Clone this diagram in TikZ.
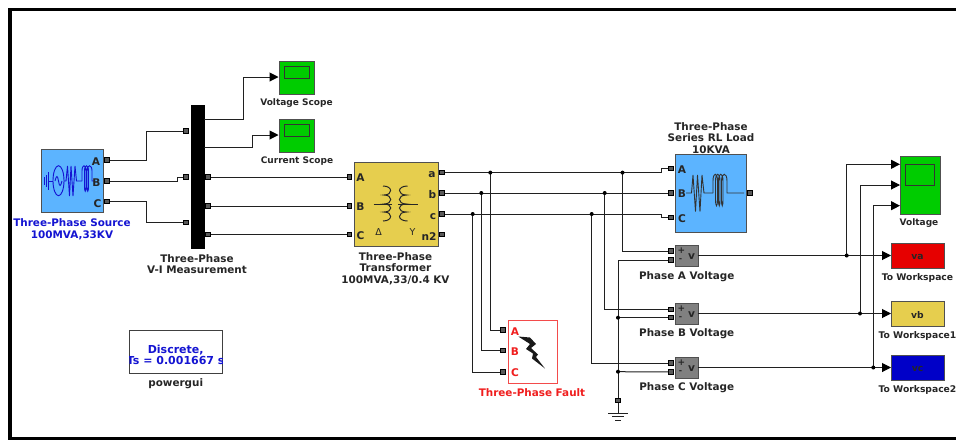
\documentclass[tikz,border=0pt]{standalone}
\usepackage{fontspec}
\setmainfont{DejaVu Sans}
\usetikzlibrary{arrows.meta}
\definecolor{srcblue}{HTML}{5CB4FF}
\definecolor{scopegreen}{HTML}{00CC00}
\definecolor{xfyellow}{HTML}{E6CE4E}
\definecolor{metergray}{HTML}{808080}
\definecolor{wire}{HTML}{202020}
\definecolor{edgegray}{HTML}{505050}
\definecolor{labelblue}{HTML}{1414D2}
\definecolor{faultred}{HTML}{F01E1E}
\definecolor{wsblue}{HTML}{0000C8}
\definecolor{wsred}{HTML}{E60000}
\tikzset{
  txt/.style={font=\bfseries\fontsize{10.4}{11.6}\selectfont,align=center,text=black!85,inner sep=0pt},
  stxt/.style={font=\bfseries\fontsize{9}{11}\selectfont,align=center,text=black!85,inner sep=0pt},
  wtxt/.style={font=\bfseries\fontsize{9.2}{10}\selectfont,align=center,text=black!85,inner sep=0pt},
  plab/.style={font=\bfseries\fontsize{10.6}{11}\selectfont,inner sep=0pt,text=black!85},
  port/.style={draw=black,fill=black!65,line width=1pt,minimum size=4.2pt,inner sep=0pt},
  con/.style={draw=wire,line width=1pt},
  sig/.style={con,-{Triangle[length=9pt,width=9pt,color=black,fill=black]}},
  block/.style={draw=edgegray,line width=1pt,inner sep=0pt},
  dot/.style={circle,fill=black,inner sep=0pt,minimum size=4pt},
  scopescreen/.style={draw=black!80,line width=1pt}
}
\begin{document}
\begin{tikzpicture}[x=1pt,y=-1pt]
\useasboundingbox (0,0) rectangle (956,440);
\fill[white] (0,0) rectangle (956,440);
% frame
\fill[black] (8,7.5) rectangle (956,11);
\fill[black] (8,7.5) rectangle (12,440);
\fill[black] (8,436.5) rectangle (956,440);

% blocks
\node[block,fill=srcblue,minimum width=61.5pt,minimum height=63pt,anchor=north west] (src) at (41,149) {};
\node[draw=black,fill=black,minimum width=13.5pt,minimum height=143pt,inner sep=0pt,anchor=north west] (vi) at (190.5,105) {};
\node[block,fill=scopegreen,minimum width=35.5pt,minimum height=33.5pt,anchor=north west] (sv) at (278.5,60.5) {};
\node[block,fill=scopegreen,minimum width=35.5pt,minimum height=33.5pt,anchor=north west] (sc) at (278.5,118.5) {};
\node[block,fill=xfyellow,minimum width=84pt,minimum height=83.5pt,anchor=north west] (xf) at (353.7,162) {};
\node[block,fill=srcblue,minimum width=71pt,minimum height=78pt,anchor=north west] (load) at (675,154.3) {};
\node[draw=faultred!80,line width=1pt,fill=white,inner sep=0pt,minimum width=49pt,minimum height=63pt,anchor=north west] (fault) at (507.5,319.5) {};
\node[block,fill=metergray,minimum width=22.7pt,minimum height=20.4pt,anchor=north west] (ma) at (675,245.3) {};
\node[block,fill=metergray,minimum width=22.7pt,minimum height=20.4pt,anchor=north west] (mb) at (675,303.3) {};
\node[block,fill=metergray,minimum width=22.7pt,minimum height=20.4pt,anchor=north west] (mc) at (675,357.3) {};
\node[block,fill=scopegreen,minimum width=40pt,minimum height=58.6pt,anchor=north west] (sv3) at (900,155.7) {};
\node[block,fill=wsred,minimum width=53pt,minimum height=25pt,anchor=north west] (wa) at (891,243) {};
\node[block,fill=xfyellow,minimum width=53pt,minimum height=25pt,anchor=north west] (wb) at (891,301) {};
\node[block,fill=wsblue,minimum width=53pt,minimum height=25pt,anchor=north west] (wc) at (891,355) {};
\node[draw=black!75,line width=1pt,fill=white,inner sep=0pt,minimum width=93.3pt,minimum height=43.3pt,anchor=north west] (pg) at (129,330) {};

% ports
\foreach \n/\x/\y in {sA/107/160,sB/107/181,sC/107/201.5,
  viA/186/131,viB/186/177,viC/186/222.6,
  voA/208/177,voB/208/206,voC/208/234.5,
  xA/349.5/177,xB/349.5/206,xC/349.5/234.5,
  xa/442/172.6,xb/442/193,xc/442/214,xn/442/234.5,
  lA/671/168.3,lB/671/193,lC/671/217.7,lN/750/193,
  fA/503/330,fB/503/350.7,fC/503/372,
  mAp/671/251,mAn/671/260,mBp/671/309.7,mBn/671/317.7,mCp/671/363,mCn/671/372,
  gp/618/400.7}
  {\node[port] (\n) at (\x,\y) {};}

% routing coordinates
\coordinate (r1) at (146.5,131);
\coordinate (r3) at (146.5,222.6);
\coordinate (oV) at (204,119);
\coordinate (oC) at (204,147.5);
\coordinate (rV) at (243.5,77);
\coordinate (rC) at (252,135);
\coordinate (ta) at (278.5,77);
\coordinate (tc) at (278.5,135);
\coordinate (j2a) at (622.5,172.6);
\coordinate (j2b) at (604.7,193);
\coordinate (j2c) at (591.7,214);
\coordinate (j1a) at (490.3,172.6);
\coordinate (j1b) at (481.3,193);
\coordinate (j1c) at (472.7,214);
\coordinate (jn0) at (618,260);
\coordinate (jn1) at (618,317.7);
\coordinate (jn2) at (618,371.7);
\coordinate (oa) at (697.7,255.5);
\coordinate (ob) at (697.7,313.5);
\coordinate (oc) at (697.7,367.5);
\coordinate (ba) at (846.7,255.5);
\coordinate (bb) at (860,313.5);
\coordinate (bc) at (873.3,367.5);
\coordinate (ga) at (900,164.3);
\coordinate (gb) at (900,185);
\coordinate (gc) at (900,205.7);
\coordinate (ea) at (891,255.5);
\coordinate (eb) at (891,313.5);
\coordinate (ec) at (891,367.5);
\coordinate (gt) at (618,413);

% connectors
\draw[con] (sA) -| (r1) -- (viA);
\draw[con] (sB) -- (177.5,181) -- (177.5,177) -- (viB);
\draw[con] (sC) -| (r3) -- (viC);
\draw[sig] (oV) -| (rV) -- (ta);
\draw[sig] (oC) -| (rC) -- (tc);
\draw[con] (voA) -- (xA);
\draw[con] (voB) -- (xB);
\draw[con] (voC) -- (xC);
\draw[con] (xa) -- (661.7,172.6) -- (661.7,168.3) -- (lA);
\draw[con] (xb) -- (lB);
\draw[con] (xc) -- (661.7,214) -- (661.7,217.7) -- (lC);
\draw[con] (j1a) |- (fA);
\draw[con] (j1b) |- (fB);
\draw[con] (j1c) |- (fC);
\draw[con] (j2a) |- (mAp);
\draw[con] (j2b) |- (mBp);
\draw[con] (j2c) |- (mCp);
\draw[con] (mAn) -- (jn0) -- (gp);
\draw[con] (jn1) -- (mBn);
\draw[con] (jn2) -- (mCn);
\draw[sig] (oa) -- (ea);
\draw[sig] (ob) -- (eb);
\draw[sig] (oc) -- (ec);
\draw[sig] (ba) |- (ga);
\draw[sig] (bb) |- (gb);
\draw[sig] (bc) |- (gc);
\draw[con] (gp) -- (gt);

% junction dots
\foreach \c in {j1a,j1b,j1c,j2a,j2b,j2c,jn1,jn2,ba,bb,bc}
  \node[dot] at (\c) {};

% ground symbol
\draw[draw=wire,line width=1pt] (608,413) -- (627.5,413);
\draw[draw=wire,line width=1pt] (612,416.5) -- (623.5,416.5);
\draw[draw=wire,line width=1pt] (615,420.5) -- (620.5,420.5);

% scope screens
\draw[scopescreen,fill=scopegreen] (284,66) rectangle (309,78);
\draw[scopescreen,fill=scopegreen] (284,124) rectangle (309,136);
\draw[scopescreen,fill=scopegreen] (905.7,164.3) rectangle (934.3,185.3);

% source icon
\begin{scope}[draw=labelblue,line width=0.9pt]
\draw (44,177) -- (44,185) (46,175) -- (46,187) (48,172) -- (48,190) (48,181) -- (53,181);
\draw (58.5,180.7) ellipse [x radius=5.5,y radius=15];
\draw (55,181) .. controls (56.5,175) and (57.5,175) .. (58.5,181) .. controls (59.5,187) and (60.5,187) .. (62,181);
\draw (64,181) -- (66,181) -- (67.5,166) -- (69.5,196) -- (71,166) -- (73,196) -- (75,166) -- (76.5,181) -- (82,181);
\draw (82,181) -- (82,171) .. controls (82,164) and (86,164) .. (86,171) -- (86,186)
  .. controls (86,193) and (84.5,193) .. (84.5,186) -- (84.5,171) .. controls (84.5,164) and (88.5,164) .. (88.5,171) -- (88.5,186)
  .. controls (88.5,193) and (87,193) .. (87,186) -- (87,171) .. controls (87,164) and (92,164) .. (92,171) -- (92,181) -- (95,181);
\end{scope}

% load icon
\begin{scope}[draw=black!80,line width=0.9pt]
\draw (686,193) -- (691.5,193) -- (693,175) -- (695.5,211.5) -- (697.5,175) -- (700,211.5) -- (702,175) -- (704,193) -- (713,193);
\draw (713,193) -- (713,181) .. controls (713,172) and (717.5,172) .. (717.5,181) -- (717.5,199)
  .. controls (717.5,208) and (715.5,208) .. (715.5,199) -- (715.5,181) .. controls (715.5,172) and (720,172) .. (720,181) -- (720,199)
  .. controls (720,208) and (718.5,208) .. (718.5,199) -- (718.5,181) .. controls (718.5,172) and (723,172) .. (723,181) -- (723,199)
  .. controls (723,208) and (721.5,208) .. (721.5,199) -- (721.5,181) .. controls (721.5,172) and (727,172) .. (727,181) -- (727,193) -- (744,193);
\end{scope}

% transformer icon
\begin{scope}[draw=black!85,line width=1pt]
\draw (383,186) .. controls (393,186) and (393,195) .. (384,195) .. controls (393,195) and (393,204) .. (384,204) .. controls (393,204) and (393,212) .. (384,212) .. controls (393,212) and (393,221) .. (383,221);
\draw (407.5,186) .. controls (397,186) and (397,195) .. (406.5,195) .. controls (397,195) and (397,204) .. (406.5,204) .. controls (397,204) and (397,212) .. (406.5,212) .. controls (397,212) and (397,221) .. (407.5,221);
\draw (373.5,204) -- (392,204);
\draw (398,204) -- (417.5,204);
\end{scope}

% bolt
\fill[black!90] (518.3,336.5) -- (530,337.5) -- (536,344) -- (531,348) -- (538,354.5) -- (536,357) -- (545,368.5) -- (532,358.5) -- (533,353.5) -- (526,349) -- (530,344) -- cycle;

% port letters
\node[plab] at (96,161.5) {A};
\node[plab] at (96.5,183) {B};
\node[plab] at (97.5,204) {C};
\node[plab] at (360.5,178) {A};
\node[plab] at (360.5,207) {B};
\node[plab] at (360.5,236) {C};
\node[plab] at (432,174.5) {a};
\node[plab] at (432.5,195) {b};
\node[plab] at (433,216.5) {c};
\node[plab] at (429,237) {n2};
\node[font=\fontsize{9.5}{11}\selectfont,inner sep=0pt,text=black!85] at (378.5,232.5) {Δ};
\node[font=\fontsize{9.5}{11}\selectfont,inner sep=0pt,text=black!85] at (412.5,232) {Y};
\node[plab] at (682,169.5) {A};
\node[plab] at (682,194) {B};
\node[plab] at (682,219) {C};
\node[plab,text=faultred] at (515,331.5) {A};
\node[plab,text=faultred] at (515,352) {B};
\node[plab,text=faultred] at (515,373) {C};
\foreach \m/\y in {ma/250,mb/308,mc/362}{
  \node[plab,font=\bfseries\fontsize{9}{10}\selectfont] at (681.5,\y+1) {+};
  \node[plab,font=\bfseries\fontsize{8}{9}\selectfont] at (680.5,\y+10) {-};
  \node[plab] at (691.5,\y+7) {v};
}

% workspace text
\node[wtxt] at (917.5,257) {va};
\node[wtxt] at (917.5,315) {vb};
\node[wtxt] at (917.5,369) {vc};

% labels
\node[stxt] (lsv) at (296.5,103.5) {Voltage Scope};
\node[stxt] (lsc) at (297,161.5) {Current Scope};
\node[txt,text=labelblue] (lsrc) at (72,229) {Three-Phase Source\\100MVA,33KV};
\node[txt] (lvi) at (197,264) {Three-Phase\\V-I Measurement};
\node[txt] (lxf) at (395.5,268.5) {Three-Phase\\Transformer\\100MVA,33/0.4 KV};
\node[txt] (lload) at (711,138) {Three-Phase\\Series RL Load\\10KVA};
\node[txt,text=faultred] (lf) at (532,393) {Three-Phase Fault};
\node[txt] (lma) at (686.7,276.5) {Phase A Voltage};
\node[txt] (lmb) at (686.7,334) {Phase B Voltage};
\node[txt] (lmc) at (686.7,388) {Phase C Voltage};
\node[stxt] (lsv3) at (919,223) {Voltage};
\node[wtxt] (lwa) at (917.5,278) {To Workspace};
\node[wtxt] (lwb) at (917.5,336) {To Workspace1};
\node[wtxt] (lwc) at (917.5,390) {To Workspace2};
\begin{scope}
\clip (129,330) rectangle (222.3,373.3);
\node[txt,font=\bfseries\fontsize{11}{11.6}\selectfont,text=labelblue] (lpg) at (175.7,355) {Discrete,\\Ts = 0.001667 s};
\end{scope}
\node[txt] (lgui) at (175.7,384) {powergui};
\end{tikzpicture}
\end{document}
